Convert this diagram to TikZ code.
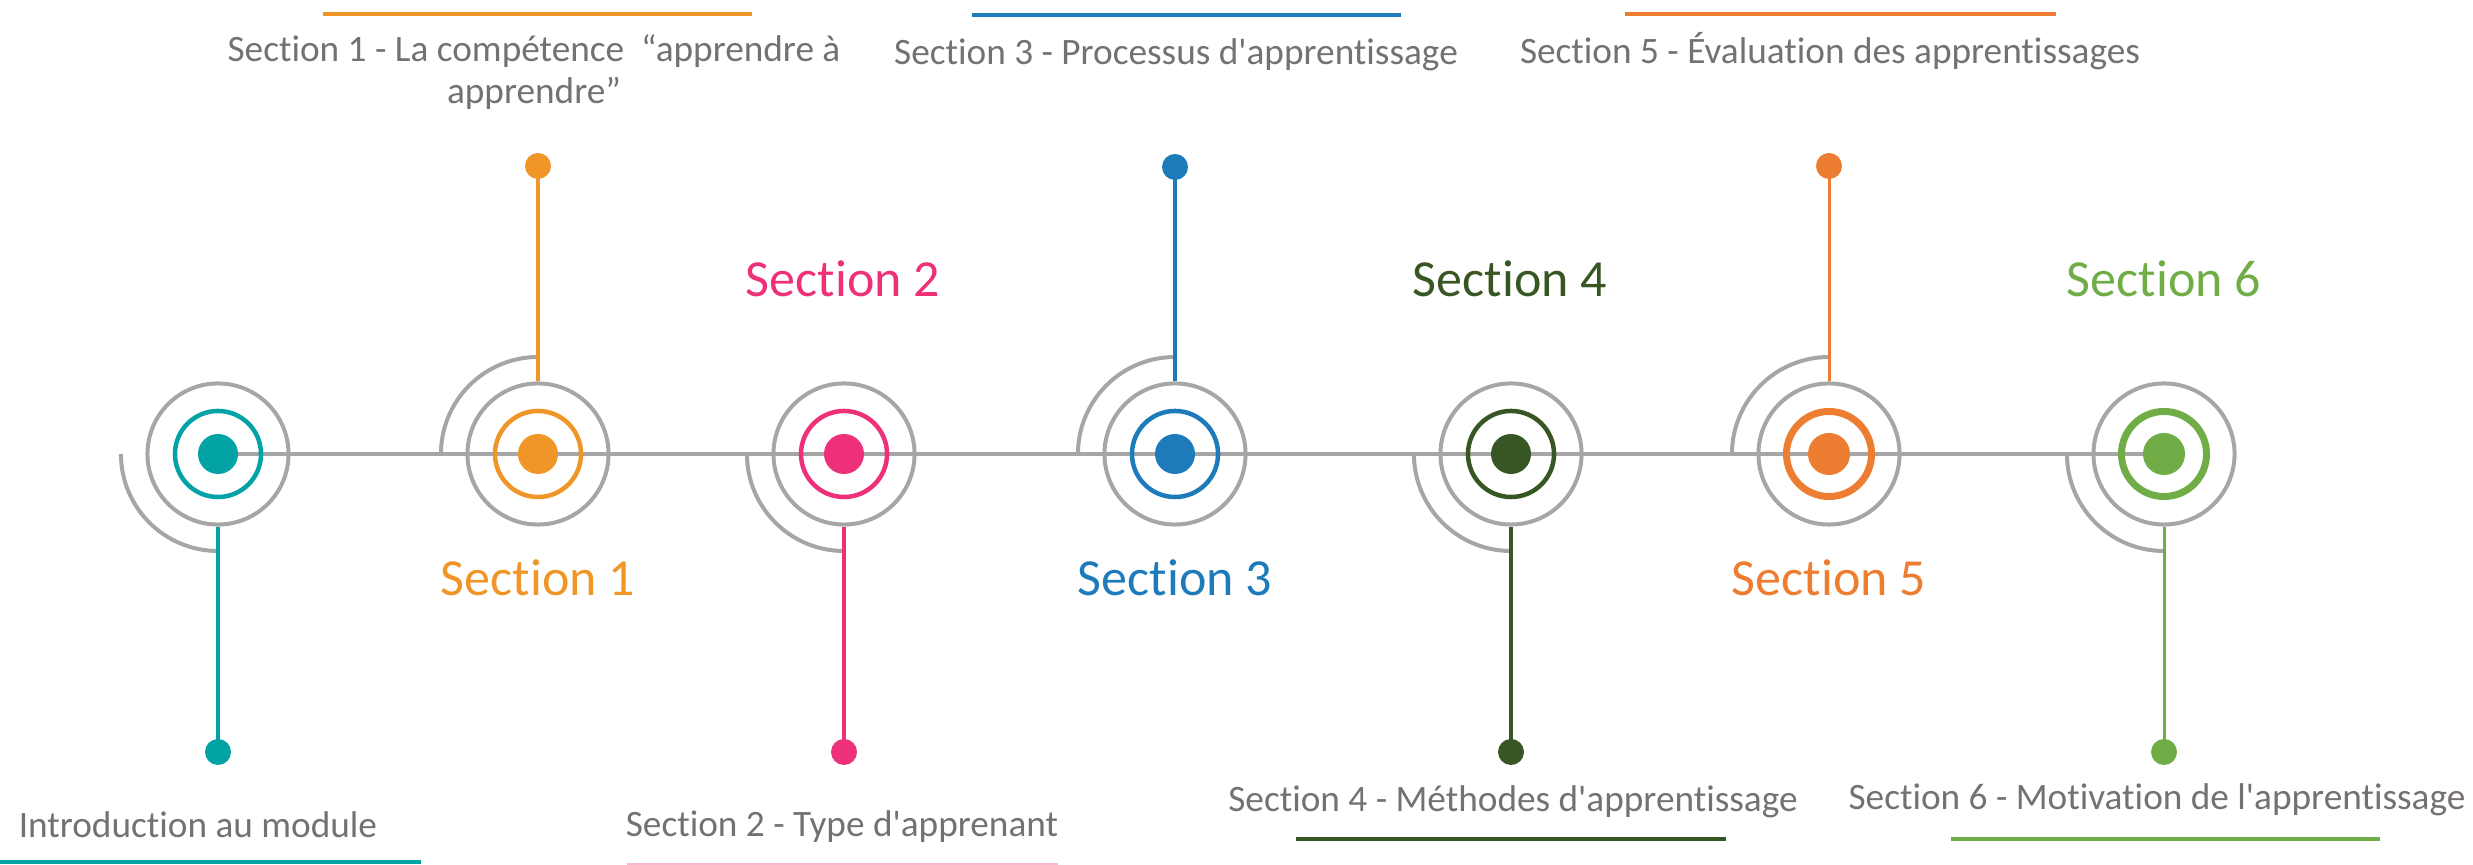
\documentclass[tikz,border=0pt]{standalone}
\usepackage{fontspec}
\setmainfont{Carlito}[Ligatures={TeXOff,NoCommon}]
\definecolor{cTeal}{RGB}{3,163,165}
\definecolor{cOrA}{RGB}{240,150,40}
\definecolor{cPink}{RGB}{238,48,121}
\definecolor{cBlue}{RGB}{30,123,187}
\definecolor{cDkGreen}{RGB}{55,86,35}
\definecolor{cOrB}{RGB}{237,125,49}
\definecolor{cGreen}{RGB}{112,173,71}
\definecolor{cGray}{RGB}{166,166,166}
\definecolor{cText}{RGB}{118,113,113}
\definecolor{cPinkLight}{RGB}{247,185,207}
\begin{document}
\begin{tikzpicture}[x=0.01cm,y=-0.01cm,
  outerring/.style={circle,draw=cGray,line width=0.04cm,minimum size=1.41cm,inner sep=0pt},
  innerring/.style={circle,draw=#1,line width=0.045cm,minimum size=0.86cm,inner sep=0pt},
  thickring/.style={circle,draw=#1,line width=0.07cm,minimum size=0.85cm,inner sep=0pt},
  hub/.style={circle,fill=#1,minimum size=0.40cm,inner sep=0pt},
  tipdot/.style={circle,fill=#1,minimum size=0.26cm,inner sep=0pt},
  stem/.style={draw=#1,line width=0.037cm},
  sweep/.style={draw=cGray,line width=0.04cm},
  axis/.style={draw=cGray,line width=0.045cm},
  biglabel/.style={text=#1,font=\fontsize{14.8pt}{17pt}\selectfont,anchor=base,inner sep=0pt},
  smalllabel/.style={text=cText,font=\fontsize{10.6pt}{12.2pt}\selectfont,anchor=base,inner sep=0pt,align=center},
  underbar/.style={draw=#1,line width=0.036cm},
]
\useasboundingbox (0,0) rectangle (2473,865);

% centres
\coordinate (p0) at (218,454);
\coordinate (p1) at (538,454);
\coordinate (p2) at (844,454);
\coordinate (p3) at (1175,454);
\coordinate (p4) at (1511,454);
\coordinate (p5) at (1829,454);
\coordinate (p6) at (2164,454);

% main axis
\draw[axis] (p0) -- (p6);

% sweeping arcs
\draw[sweep] ([xshift=-0.97cm]p0) arc[start angle=180,end angle=90,radius=97];
\draw[sweep] ([xshift=-0.97cm]p1) arc[start angle=180,end angle=270,radius=97];
\draw[sweep] ([xshift=-0.97cm]p2) arc[start angle=180,end angle=90,radius=97];
\draw[sweep] ([xshift=-0.97cm]p3) arc[start angle=180,end angle=270,radius=97];
\draw[sweep] ([xshift=-0.97cm]p4) arc[start angle=180,end angle=90,radius=97];
\draw[sweep] ([xshift=-0.97cm]p5) arc[start angle=180,end angle=270,radius=97];
\draw[sweep] ([xshift=-0.97cm]p6) arc[start angle=180,end angle=90,radius=97];

% rings
\node[outerring] (o0) at (p0) {};
\node[outerring] (o1) at (p1) {};
\node[outerring] (o2) at (p2) {};
\node[outerring] (o3) at (p3) {};
\node[outerring] (o4) at (p4) {};
\node[outerring] (o5) at (p5) {};
\node[outerring] (o6) at (p6) {};

\node[innerring=cTeal] (i0) at (p0) {};
\node[innerring=cOrA] (i1) at (p1) {};
\node[innerring=cPink] (i2) at (p2) {};
\node[innerring=cBlue] (i3) at (p3) {};
\node[innerring=cDkGreen] (i4) at (p4) {};
\node[thickring=cOrB] (i5) at (p5) {};
\node[thickring=cGreen] (i6) at (p6) {};

\node[hub=cTeal] (h0) at (p0) {};
\node[hub=cOrA] (h1) at (p1) {};
\node[hub=cPink] (h2) at (p2) {};
\node[hub=cBlue] (h3) at (p3) {};
\node[hub=cDkGreen] (h4) at (p4) {};
\node[hub=cOrB,minimum size=0.42cm] (h5) at (p5) {};
\node[hub=cGreen,minimum size=0.42cm] (h6) at (p6) {};

% tip dots
\node[tipdot=cTeal] (t0) at (218,752) {};
\node[tipdot=cOrA] (t1) at (538,166) {};
\node[tipdot=cPink] (t2) at (844,752) {};
\node[tipdot=cBlue] (t3) at (1175,167) {};
\node[tipdot=cDkGreen] (t4) at (1511,752) {};
\node[tipdot=cOrB] (t5) at (1829,166) {};
\node[tipdot=cGreen] (t6) at (2164,752) {};

% stems
\draw[stem=cTeal] (o0.south) -- (t0.center);
\draw[stem=cOrA] (o1.north) -- (t1.center);
\draw[stem=cPink] (o2.south) -- (t2.center);
\draw[stem=cBlue] (o3.north) -- (t3.center);
\draw[stem=cDkGreen] (o4.south) -- (t4.center);
\draw[stem=cOrB,line width=0.03cm] (o5.north) -- (t5.center);
\draw[stem=cGreen,line width=0.03cm] (o6.south) -- (t6.center);

% big labels
\node[biglabel=cOrA] (b1) at (538,596) {Section 1};
\node[biglabel=cPink] (b2) at (843,297) {Section 2};
\node[biglabel=cBlue] (b3) at (1175,596) {Section 3};
\node[biglabel=cDkGreen] (b4) at (1510,297) {Section 4};
\node[biglabel=cOrB] (b5) at (1829,596) {Section 5};
\node[biglabel=cGreen] (b6) at (2164,297) {Section 6};

% small labels
\node[smalllabel] (s1) at (534,104) {Section 1 - La compétence\ \ “apprendre à\\apprendre”};
\node[smalllabel] (s3) at (1176,65) {Section 3 - Processus d'apprentissage};
\node[smalllabel] (s5) at (1830,64) {Section 5 - Évaluation des apprentissages};
\node[smalllabel] (s0) at (198,838) {Introduction au module};
\node[smalllabel] (s2) at (842,837) {Section 2 - Type d'apprenant};
\node[smalllabel] (s4) at (1513,812) {Section 4 - Méthodes d'apprentissage};
\node[smalllabel] (s6) at (2157,810) {Section 6 - Motivation de l'apprentissage};

% underbars
\draw[underbar=cOrA] (323,14) -- (752,14);
\draw[underbar=cBlue] (972,15) -- (1401,15);
\draw[underbar=cOrB] (1625,14) -- (2056,14);
\draw[underbar=cTeal] (0,862) -- (421,862);
\draw[underbar=cPinkLight,line width=0.02cm] (627,864) -- (1058,864);
\draw[underbar=cDkGreen] (1296,839) -- (1726,839);
\draw[underbar=cGreen] (1951,839) -- (2380,839);
\end{tikzpicture}
\end{document}
